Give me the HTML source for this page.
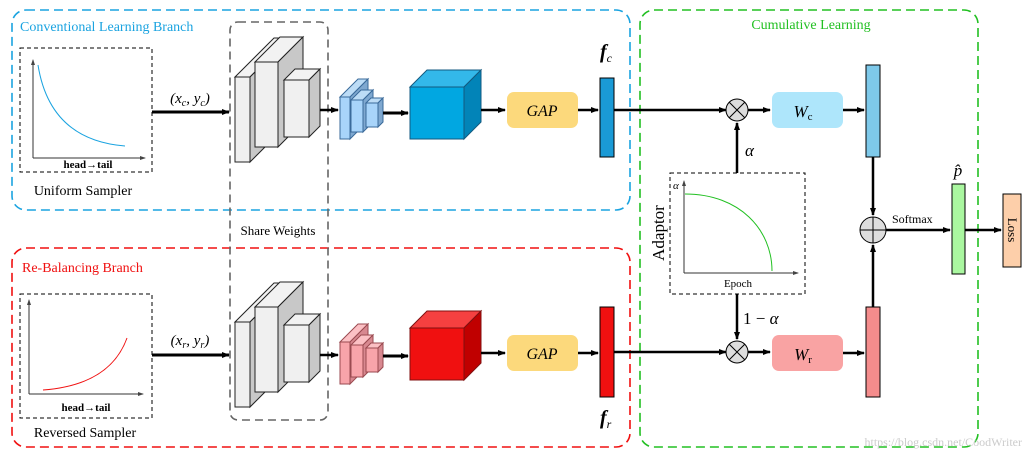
<!DOCTYPE html>
<html><head><meta charset="utf-8"><style>
html,body{margin:0;padding:0;background:#fff;width:1030px;height:464px;overflow:hidden}
text{font-family:"Liberation Serif",serif}
</style></head><body>
<svg width="1030" height="464" viewBox="0 0 1030 464" xmlns="http://www.w3.org/2000/svg">
<defs>
<marker id="ar" markerWidth="8" markerHeight="8" refX="7" refY="4" orient="auto" markerUnits="userSpaceOnUse"><path d="M0,1 L8,4 L0,7 Z" fill="#000"/></marker>
<marker id="sa" markerWidth="6" markerHeight="6" refX="5" refY="3" orient="auto" markerUnits="userSpaceOnUse"><path d="M0,1 L6,3 L0,5 Z" fill="#444"/></marker>
<g id="cnn" stroke="#222" stroke-width="1">
 <polygon points="235,77 274,38 289,38 250,77" fill="#f2f2f2"/><polygon points="250,77 289,38 289,123 250,162" fill="#c8c8c8"/><rect x="235" y="77" width="15" height="85" fill="#f0f0f0"/>
 <polygon points="255,62 280,37 303,37 278,62" fill="#f2f2f2"/><polygon points="278,62 303,37 303,122 278,147" fill="#c8c8c8"/><rect x="255" y="62" width="23" height="85" fill="#f0f0f0"/>
 <polygon points="284,80 295,69 320,69 309,80" fill="#f2f2f2"/><polygon points="309,80 320,69 320,126 309,137" fill="#c8c8c8"/><rect x="284" y="80" width="25" height="57" fill="#f0f0f0"/>
</g>
</defs>
<!-- containers -->
<rect x="12" y="10" width="618" height="200" rx="14" fill="none" stroke="#1aa3e0" stroke-width="1.6" stroke-dasharray="9,5"/>
<rect x="12" y="248" width="618" height="199" rx="14" fill="none" stroke="#f01010" stroke-width="1.6" stroke-dasharray="9,5"/>
<rect x="640" y="10" width="338" height="437" rx="14" fill="none" stroke="#22c022" stroke-width="1.6" stroke-dasharray="9,5"/>
<text x="20" y="31" font-size="14" fill="#1aa3e0">Conventional Learning Branch</text>
<text x="22" y="272" font-size="14" fill="#f01010">Re-Balancing Branch</text>
<text x="811" y="29" font-size="14" fill="#22c022" text-anchor="middle">Cumulative Learning</text>
<!-- plots -->
<rect x="20" y="48" width="132" height="124" fill="none" stroke="#000" stroke-dasharray="4,3"/>
<line x1="33" y1="158" x2="33" y2="60" stroke="#333" marker-end="url(#sa)"/><line x1="33" y1="158" x2="145" y2="158" stroke="#333" marker-end="url(#sa)"/>
<path d="M38,65 Q50,140 125,146" fill="none" stroke="#1aa3e0"/>
<text x="88" y="168" font-size="11" font-weight="bold" text-anchor="middle">head→tail</text>
<text x="83" y="195" font-size="14" text-anchor="middle">Uniform Sampler</text>
<rect x="20" y="294" width="132" height="124" fill="none" stroke="#000" stroke-dasharray="4,3"/>
<line x1="29" y1="394" x2="29" y2="300" stroke="#333" marker-end="url(#sa)"/><line x1="29" y1="394" x2="143" y2="394" stroke="#333" marker-end="url(#sa)"/>
<path d="M43,390 Q110,385 127,338" fill="none" stroke="#f01010"/>
<text x="86" y="411" font-size="11" font-weight="bold" text-anchor="middle">head→tail</text>
<text x="85" y="437" font-size="14" text-anchor="middle">Reversed Sampler</text>
<!-- inputs -->
<line x1="152" y1="112" x2="229" y2="112" stroke="#000" stroke-width="3" marker-end="url(#ar)"/>
<text x="190" y="103" font-size="15" text-anchor="middle" font-style="italic">(x<tspan font-size="10" dy="3">c</tspan><tspan dy="-3">, y</tspan><tspan font-size="10" dy="3">c</tspan><tspan dy="-3">)</tspan></text>
<line x1="152" y1="355" x2="229" y2="355" stroke="#000" stroke-width="3" marker-end="url(#ar)"/>
<text x="190" y="345" font-size="15" text-anchor="middle" font-style="italic">(x<tspan font-size="10" dy="3">r</tspan><tspan dy="-3">, y</tspan><tspan font-size="10" dy="3">r</tspan><tspan dy="-3">)</tspan></text>
<!-- share weights -->
<rect x="230" y="22" width="98" height="398" rx="8" fill="none" stroke="#666" stroke-width="1.6" stroke-dasharray="8,5"/>
<use href="#cnn"/>
<use href="#cnn" transform="translate(0,245)"/>
<rect x="231" y="221" width="96" height="18" fill="#fff"/>
<text x="278" y="235" font-size="13" text-anchor="middle">Share Weights</text>
<!-- top flow -->
<line x1="320" y1="110" x2="338" y2="110" stroke="#000" stroke-width="2.5" marker-end="url(#ar)"/>
<g stroke="#3a6a9a" stroke-width="1">
<polygon points="340,97 358,79 368,79 350,97" fill="#bcdcf6"/><polygon points="350,97 368,79 368,121 350,139" fill="#7fa8d0"/><rect x="340" y="97" width="10" height="42" fill="#a8d4fa"/>
<polygon points="351,100 361,90 373,90 363,100" fill="#bcdcf6"/><polygon points="363,100 373,90 373,122 363,132" fill="#7fa8d0"/><rect x="351" y="100" width="12" height="32" fill="#a8d4fa"/>
<polygon points="366,103 371,98 383,98 378,103" fill="#bcdcf6"/><polygon points="378,103 383,98 383,122 378,127" fill="#7fa8d0"/><rect x="366" y="103" width="12" height="24" fill="#a8d4fa"/>
</g>
<line x1="383" y1="113" x2="408" y2="113" stroke="#000" stroke-width="3" marker-end="url(#ar)"/>
<g stroke="#135a80"><polygon points="410,87 427,70 481,70 464,87" fill="#33b8ea"/><polygon points="464,87 481,70 481,122 464,139" fill="#0284b8"/><rect x="410" y="87" width="54" height="52" fill="#01a7e1"/></g>
<line x1="481" y1="110" x2="505" y2="110" stroke="#000" stroke-width="2.5" marker-end="url(#ar)"/>
<rect x="507" y="92" width="71" height="36" rx="7" fill="#fcd97c"/>
<text x="542" y="116" font-size="16" font-style="italic" text-anchor="middle">GAP</text>
<line x1="578" y1="110" x2="598" y2="110" stroke="#000" stroke-width="2.5" marker-end="url(#ar)"/>
<rect x="600" y="78" width="14" height="79" fill="#1a9ad6" stroke="#000"/>
<text x="600" y="58" font-size="20" font-style="italic" font-weight="bold">f<tspan font-size="12" dy="4" font-weight="normal">c</tspan></text>
<line x1="614" y1="110" x2="726" y2="110" stroke="#000" stroke-width="2.5" marker-end="url(#ar)"/>
<circle cx="737" cy="110" r="11" fill="#ddd" stroke="#000"/><path d="M729,102 L745,118 M745,102 L729,118" stroke="#000"/>
<line x1="748" y1="110" x2="770" y2="110" stroke="#000" stroke-width="2.5" marker-end="url(#ar)"/>
<rect x="772" y="92" width="71" height="36" rx="7" fill="#aee6fb"/>
<text x="803" y="117" font-size="17" font-style="italic" text-anchor="middle">W<tspan font-size="11" dy="3" font-style="normal">c</tspan></text>
<line x1="843" y1="110" x2="864" y2="110" stroke="#000" stroke-width="2.5" marker-end="url(#ar)"/>
<rect x="866" y="65" width="14" height="92" fill="#7ec9ea" stroke="#000"/>
<line x1="737" y1="173" x2="737" y2="123" stroke="#000" stroke-width="2.5" marker-end="url(#ar)"/>
<text x="745" y="156" font-size="17" font-style="italic">α</text>
<!-- bottom flow -->
<line x1="320" y1="355" x2="338" y2="355" stroke="#000" stroke-width="2.5" marker-end="url(#ar)"/>
<g stroke="#9a4a50" stroke-width="1">
<polygon points="340,342 358,324 368,324 350,342" fill="#fcc0c4"/><polygon points="350,342 368,324 368,366 350,384" fill="#d88890"/><rect x="340" y="342" width="10" height="42" fill="#f8a4aa"/>
<polygon points="351,345 361,335 373,335 363,345" fill="#fcc0c4"/><polygon points="363,345 373,335 373,367 363,377" fill="#d88890"/><rect x="351" y="345" width="12" height="32" fill="#f8a4aa"/>
<polygon points="366,348 371,343 383,343 378,348" fill="#fcc0c4"/><polygon points="378,348 383,343 383,367 378,372" fill="#d88890"/><rect x="366" y="348" width="12" height="24" fill="#f8a4aa"/>
</g>
<line x1="383" y1="356" x2="408" y2="356" stroke="#000" stroke-width="3" marker-end="url(#ar)"/>
<g stroke="#801010"><polygon points="410,328 427,311 481,311 464,328" fill="#f54040"/><polygon points="464,328 481,311 481,363 464,380" fill="#c00000"/><rect x="410" y="328" width="54" height="52" fill="#f01010"/></g>
<line x1="481" y1="353" x2="505" y2="353" stroke="#000" stroke-width="2.5" marker-end="url(#ar)"/>
<rect x="507" y="335" width="71" height="36" rx="7" fill="#fcd97c"/>
<text x="542" y="359" font-size="16" font-style="italic" text-anchor="middle">GAP</text>
<line x1="578" y1="353" x2="598" y2="353" stroke="#000" stroke-width="2.5" marker-end="url(#ar)"/>
<rect x="600" y="307" width="14" height="90" fill="#f01010" stroke="#000"/>
<text x="600" y="424" font-size="20" font-style="italic" font-weight="bold">f<tspan font-size="12" dy="4" font-weight="normal">r</tspan></text>
<line x1="614" y1="352" x2="726" y2="352" stroke="#000" stroke-width="2.5" marker-end="url(#ar)"/>
<circle cx="737" cy="352" r="11" fill="#ddd" stroke="#000"/><path d="M729,344 L745,360 M745,344 L729,360" stroke="#000"/>
<line x1="748" y1="352" x2="770" y2="352" stroke="#000" stroke-width="2.5" marker-end="url(#ar)"/>
<rect x="772" y="335" width="71" height="36" rx="7" fill="#f9a3a3"/>
<text x="803" y="360" font-size="17" font-style="italic" text-anchor="middle">W<tspan font-size="11" dy="3" font-style="normal">r</tspan></text>
<line x1="843" y1="353" x2="864" y2="353" stroke="#000" stroke-width="2.5" marker-end="url(#ar)"/>
<rect x="866" y="307" width="14" height="90" fill="#f48c8c" stroke="#000"/>
<line x1="737" y1="294" x2="737" y2="339" stroke="#000" stroke-width="2.5" marker-end="url(#ar)"/>
<text x="743" y="324" font-size="17">1 − <tspan font-style="italic">α</tspan></text>
<!-- adaptor -->
<rect x="670" y="173" width="135" height="121" fill="#fff" stroke="#000" stroke-dasharray="4,3"/>
<line x1="684" y1="273" x2="684" y2="181" stroke="#333" marker-end="url(#sa)"/><line x1="684" y1="273" x2="798" y2="273" stroke="#333" marker-end="url(#sa)"/>
<path d="M685,194 C740,194 772,230 772,271" fill="none" stroke="#22c022"/>
<text x="673" y="189" font-size="11" font-style="italic">α</text>
<text x="738" y="287" font-size="11" text-anchor="middle">Epoch</text>
<text transform="translate(664,233) rotate(-90)" font-size="17" text-anchor="middle">Adaptor</text>
<!-- fusion -->
<line x1="873" y1="157" x2="873" y2="215" stroke="#000" stroke-width="2.5" marker-end="url(#ar)"/>
<line x1="873" y1="307" x2="873" y2="245" stroke="#000" stroke-width="2.5" marker-end="url(#ar)"/>
<circle cx="873" cy="230" r="13" fill="#ddd" stroke="#000"/><path d="M860,230 H886 M873,217 V243" stroke="#000"/>
<line x1="886" y1="230" x2="950" y2="230" stroke="#000" stroke-width="2.5" marker-end="url(#ar)"/>
<text x="892" y="223" font-size="12">Softmax</text>
<rect x="952" y="184" width="13" height="90" fill="#aaf7a0" stroke="#000"/>
<text x="958" y="176" font-size="17" font-style="italic" text-anchor="middle">p̂</text>
<line x1="965" y1="230" x2="1001" y2="230" stroke="#000" stroke-width="2.5" marker-end="url(#ar)"/>
<rect x="1003" y="194" width="18" height="73" fill="#fdcfaa" stroke="#000"/>
<text transform="translate(1008,230) rotate(90)" font-size="13" text-anchor="middle">Loss</text>
<text x="1022" y="446" font-size="12" fill="#ccc" text-anchor="end" font-family="Liberation Sans">https://blog.csdn.net/CoodWriter</text>
</svg>
</body></html>
